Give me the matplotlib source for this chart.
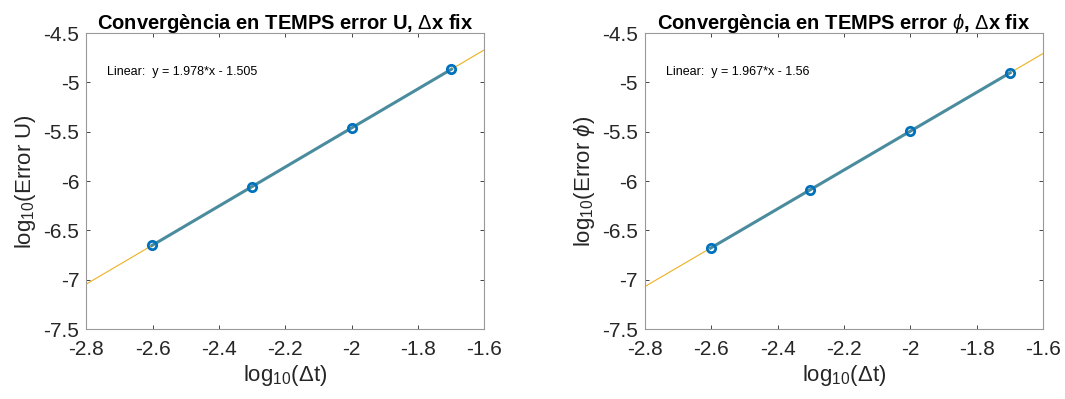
import numpy as np
import matplotlib.pyplot as plt

plt.rcParams['font.family'] = ['Liberation Sans', 'DejaVu Sans']
plt.rcParams['mathtext.fontset'] = 'custom'
plt.rcParams['mathtext.rm'] = 'Liberation Sans'
plt.rcParams['mathtext.it'] = 'Liberation Sans:italic'

# time steps dt = 1/400, 1/200, 1/100, 1/50
log_dt = [-2.602, -2.301, -2.0, -1.699]
log_err_u = [-6.652, -6.057, -5.461, -4.866]
log_err_phi = [-6.678, -6.086, -5.494, -4.902]

fit_u = (1.978, -1.505)
fit_phi = (1.967, -1.56)

titles = [r'Convergència en TEMPS error U, $\Delta$x fix',
          r'Convergència en TEMPS error $\phi$, $\Delta$x fix']
ylabels = [r'log$_{10}$(Error U)', r'log$_{10}$(Error $\phi$)']
fit_texts = ['Linear:  y = 1.978*x - 1.505', 'Linear:  y = 1.967*x - 1.56']

xticks = [-2.8, -2.6, -2.4, -2.2, -2, -1.8, -1.6]
xticklabels = ['-2.8', '-2.6', '-2.4', '-2.2', '-2', '-1.8', '-1.6']
yticks = [-7.5, -7, -6.5, -6, -5.5, -5, -4.5]
yticklabels = ['-7.5', '-7', '-6.5', '-6', '-5.5', '-5', '-4.5']

fig = plt.figure(figsize=(10.65, 3.99), dpi=100)
positions = [[0.081, 0.175, 0.3737, 0.742],
             [0.6056, 0.175, 0.3737, 0.742]]

xfit = np.array([-2.8, -1.6])
for pos, y, (m, b), title, ylab, txt in zip(
        positions, [log_err_u, log_err_phi], [fit_u, fit_phi],
        titles, ylabels, fit_texts):
    ax = fig.add_axes(pos)
    ax.plot(xfit, m * xfit + b, color='#EDB120', lw=0.8, zorder=2)
    ax.plot(log_dt, y, '-', color='#4A8C9E', lw=2.2, zorder=3)
    ax.plot(log_dt, y, 'o', mfc='none', mec='#0072BD', mew=2, ms=6, zorder=4)
    ax.set_xlim(-2.8, -1.6)
    ax.set_ylim(-7.5, -4.5)
    ax.set_xticks(xticks, xticklabels)
    ax.set_yticks(yticks, yticklabels)
    ax.tick_params(direction='in', top=True, right=True, labelsize=15,
                   colors='#262626', length=3, width=0.6)
    ax.tick_params(axis='x', pad=8)
    ax.tick_params(axis='y', pad=5)
    for s in ax.spines.values():
        s.set_color('#999999')
        s.set_linewidth(0.8)
    ax.set_title(title, fontsize=14.5, fontweight='bold', pad=3)
    ax.set_xlabel(r'log$_{10}$($\Delta$t)', fontsize=16, color='#262626', labelpad=3)
    ax.set_ylabel(ylab, fontsize=16, color='#262626', labelpad=4)
    ax.text(-2.737, -4.895, txt, fontsize=9, va='center', ha='left')

fig.savefig('out.png', dpi=100)
